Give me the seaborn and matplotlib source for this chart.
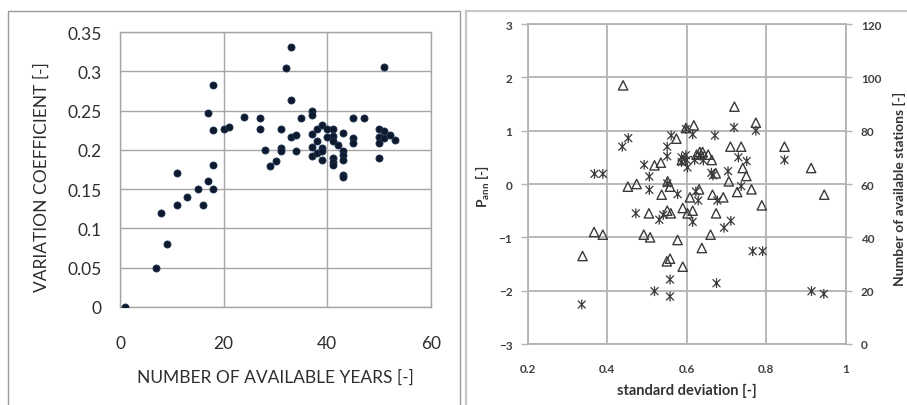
import matplotlib
matplotlib.use('Agg')
import matplotlib.pyplot as plt
from matplotlib.path import Path
from matplotlib.patches import Rectangle
import seaborn as sns

# ---- left panel: variation coefficient vs number of available years ----
years = [1, 7, 8, 9, 11, 11, 13, 15, 16, 17, 17, 18, 18, 18, 18, 20, 21, 24, 27, 27,
         28, 29, 30, 31, 31, 31, 32, 33, 33, 33, 34, 34, 35, 37, 37, 37, 37, 37, 38, 38,
         38, 39, 39, 39, 39, 40, 40, 41, 41, 41, 41, 41, 41, 42, 43, 43, 43, 43, 43, 43,
         45, 45, 45, 47, 50, 50, 50, 50, 51, 51, 51, 52, 53]
var_coef = [0, 0.05, 0.12, 0.08, 0.17, 0.13, 0.14, 0.15, 0.13, 0.16, 0.247, 0.283, 0.225, 0.181, 0.15,
            0.226, 0.229, 0.242, 0.241, 0.227, 0.2, 0.18, 0.186, 0.227, 0.202, 0.198, 0.304, 0.331,
            0.263, 0.216, 0.219, 0.198, 0.241, 0.25, 0.245, 0.22, 0.204, 0.192, 0.211, 0.226, 0.196,
            0.232, 0.202, 0.198, 0.187, 0.226, 0.216, 0.226, 0.218, 0.211, 0.19, 0.185, 0.181, 0.206,
            0.221, 0.198, 0.193, 0.187, 0.168, 0.165, 0.241, 0.215, 0.209, 0.241, 0.226, 0.217,
            0.209, 0.19, 0.305, 0.224, 0.215, 0.219, 0.212]

# ---- right panel: P_ann (asterisks) and number of stations (triangles) ----
ast_sd = [0.336, 0.368, 0.389, 0.438, 0.453, 0.472, 0.493, 0.506, 0.506, 0.519, 0.531, 0.541,
          0.551, 0.551, 0.551, 0.558, 0.558, 0.561, 0.577, 0.587, 0.587, 0.598, 0.598, 0.602,
          0.615, 0.615, 0.629, 0.623, 0.636, 0.642, 0.662, 0.671, 0.675, 0.677, 0.694, 0.704,
          0.711, 0.719, 0.730, 0.737, 0.751, 0.766, 0.791, 0.774, 0.846, 0.914, 0.945,
          0.634, 0.666, 0.620, 0.600]
ast_p = [-2.26, 0.19, 0.19, 0.70, 0.86, -0.55, 0.36, 0.14, -0.11, -2.01, -0.67, -0.58,
         0.70, 0.52, 0.01, -1.79, -2.11, 0.91, -0.19, 0.41, 0.50, 1.03, 0.54, 0.31,
         0.93, -0.71, -0.31, -0.14, 0.53, 0.44, 0.21, 0.91, -1.86, -0.31, -0.82, 0.24,
         -0.69, 1.06, 0.50, -0.04, 0.43, -1.26, -1.26, 1.00, 0.45, -2.01, -2.06,
         0.53, 0.16, 0.45, 0.45]

tri_sd = [0.44, 0.72, 0.774, 0.618, 0.598, 0.574, 0.71, 0.737, 0.846, 0.913, 0.946, 0.519,
          0.535, 0.452, 0.474, 0.552, 0.558, 0.537, 0.608, 0.631, 0.64, 0.633, 0.654, 0.663,
          0.665, 0.673, 0.692, 0.706, 0.727, 0.741, 0.75, 0.763, 0.789, 0.505, 0.551, 0.56,
          0.59, 0.602, 0.615, 0.674, 0.367, 0.389, 0.492, 0.508, 0.577, 0.66, 0.638, 0.338,
          0.558, 0.55, 0.59, 0.588, 0.625]
tri_stations = [97, 89, 83, 82, 81, 77, 74, 74, 74, 66, 56, 67,
                68, 59, 60, 61, 59, 56, 55, 58, 72, 72, 71, 69,
                56, 64, 55, 61, 57, 66, 63, 58, 52, 49, 50, 49,
                51, 49, 50, 49, 42, 41, 41, 40, 39, 41, 36, 33,
                32, 31, 29, 69, 71]

sns.set_style("white")
plt.rcParams['font.family'] = ['Lato', 'DejaVu Sans']

W, H = 907, 406
fig = plt.figure(figsize=(W / 100, H / 100), dpi=100)

grid_c = '#a6a6a6'

# panel frames
fig.add_artist(Rectangle((8 / W, -0.05), (460 - 8) / W, 1.05 - 12 / H, transform=fig.transFigure,
                         fill=False, edgecolor='#9a9a9a', linewidth=1.0))
fig.add_artist(Rectangle((466 / W, -0.05), (W + 10 - 466) / W, 1.05 - 12 / H, transform=fig.transFigure,
                         fill=False, edgecolor='#c8c8c8', linewidth=1.6))

# ==================== left panel ====================
ax1 = fig.add_axes([120 / W, 1 - 308 / H, 311 / W, 275 / H])
sns.scatterplot(x=years, y=var_coef, ax=ax1, color='#0d1a2e', edgecolor='#1f3350',
                linewidth=0.6, s=26, zorder=3)
ax1.set_xlim(0, 60)
ax1.set_ylim(0, 0.35)
ax1.set_xticks([0, 20, 40, 60])
ax1.set_yticks([0, 0.05, 0.1, 0.15, 0.2, 0.25, 0.3, 0.35])
ax1.set_yticklabels(['0', '0.05', '0.1', '0.15', '0.2', '0.25', '0.3', '0.35'])
ax1.grid(True, color=grid_c, linewidth=1.0)
for s in ax1.spines.values():
    s.set_color(grid_c)
    s.set_linewidth(1.0)
ax1.tick_params(axis='both', direction='out', length=5, width=1.0, color=grid_c,
                labelsize=12.5, labelcolor='#2e2e2e')
ax1.tick_params(axis='y', pad=8)
ax1.tick_params(axis='x', pad=15)
ax1.set_xlabel('NUMBER OF AVAILABLE YEARS [-]', fontsize=12.5, color='#2e2e2e')
ax1.set_ylabel('VARIATION COEFFICIENT [-]', fontsize=12.5, color='#2e2e2e')
ax1.xaxis.set_label_coords(0.5, -0.225)
ax1.yaxis.set_label_coords(-0.225, 0.477)

# ==================== right panel ====================
ax2 = fig.add_axes([527.7 / W, 1 - 345 / H, 318 / W, 320 / H])
star = Path([(-1, -1), (1, 1), (-1, 1), (1, -1), (0, -1.25), (0, 1.25)],
            [Path.MOVETO, Path.LINETO, Path.MOVETO, Path.LINETO, Path.MOVETO, Path.LINETO])
sns.scatterplot(x=ast_sd, y=ast_p, ax=ax2, marker=star, s=50, facecolor='none',
                edgecolor='#3a3a3a', linewidth=0.9, zorder=3)
ax2.set_xlim(0.2, 1.0)
ax2.set_ylim(-3, 3)
ax2.set_xticks([0.2, 0.4, 0.6, 0.8, 1.0])
ax2.set_xticklabels(['0.2', '0.4', '0.6', '0.8', '1'])
ax2.set_yticks([-3, -2, -1, 0, 1, 2, 3])
ax2.grid(True, color='#b3b3b3', linewidth=1.3)
for s in ax2.spines.values():
    s.set_color('#b3b3b3')
    s.set_linewidth(1.3)
ax2.tick_params(axis='both', direction='out', length=5, width=1.0, color='#b3b3b3',
                labelsize=8.5, labelcolor='#404040')
ax2.tick_params(axis='y', pad=6)
ax2.tick_params(axis='x', pad=9)
for lab in ax2.get_xticklabels() + ax2.get_yticklabels():
    lab.set_fontweight('bold')
ax2.set_xlabel('standard deviation [-]', fontsize=10.5, fontweight='bold', color='#333333')
ax2.set_ylabel(r'P$_{\mathregular{ann}}$ [-]', fontsize=10, fontweight='bold', color='#333333')
ax2.xaxis.set_label_coords(0.5, -0.122)
ax2.yaxis.set_label_coords(-0.112, 0.495)

ax3 = ax2.twinx()
sns.scatterplot(x=tri_sd, y=tri_stations, ax=ax3, marker='^', s=45, facecolor='none',
                edgecolor='#3a3a3a', linewidth=1.0, zorder=3)
ax3.set_ylim(0, 120)
ax3.set_yticks([0, 20, 40, 60, 80, 100, 120])
ax3.grid(False)
for s in ax3.spines.values():
    s.set_visible(False)
ax3.tick_params(axis='y', direction='out', length=4, width=1.0, color='#b3b3b3',
                labelsize=8.5, labelcolor='#404040', pad=7)
for lab in ax3.get_yticklabels():
    lab.set_fontweight('bold')
ax3.set_ylabel('Number of available stations [-]', fontsize=10, fontweight='bold', color='#333333')
ax3.yaxis.set_label_coords(1.15, 0.4875)

fig.savefig('out.png', dpi=100)
